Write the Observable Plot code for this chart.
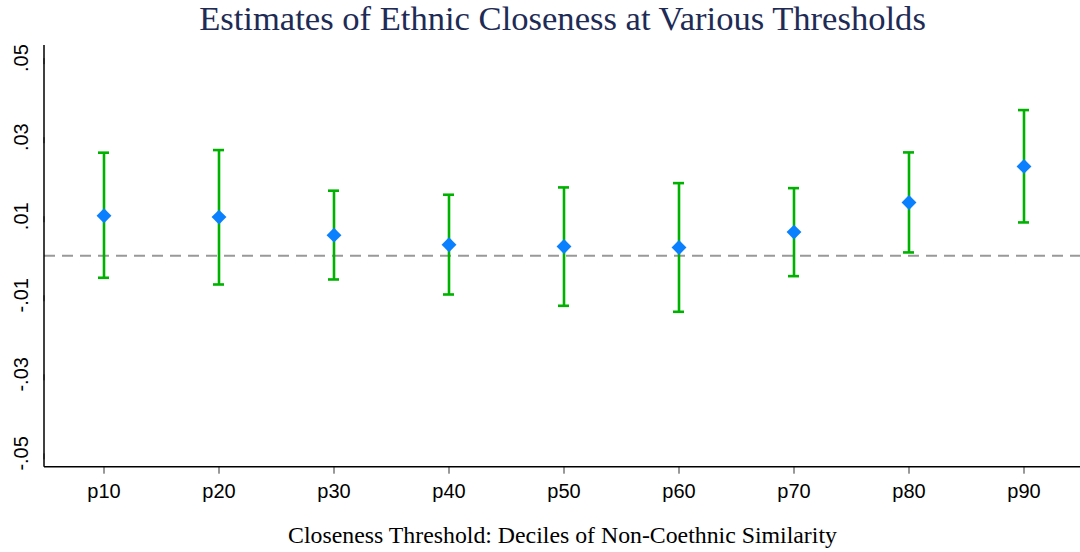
<!DOCTYPE html>
<html>
<head>
<meta charset="utf-8">
<script src="https://cdn.jsdelivr.net/npm/d3@7"></script>
<script src="https://cdn.jsdelivr.net/npm/@observablehq/plot@0.6"></script>
<style>
  html, body { margin: 0; padding: 0; background: #ffffff; }
</style>
</head>
<body>
<div id="chart"></div>
<script>
const categories = ["p10", "p20", "p30", "p40", "p50", "p60", "p70", "p80", "p90"];
const estimates  = [0.01013, 0.00978, 0.00522, 0.00278, 0.00235, 0.00210, 0.00598, 0.01349, 0.02261];
const lower      = [-0.00557, -0.00727, -0.00600, -0.00980, -0.01266, -0.01418, -0.00516, 0.00084, 0.00843];
const upper      = [0.02608, 0.02674, 0.01646, 0.01544, 0.01729, 0.01838, 0.01711, 0.02615, 0.03686];
const yTicks     = [-0.05, -0.03, -0.01, 0.01, 0.03, 0.05];
const titleText  = "Estimates of Ethnic Closeness at Various Thresholds";
const xLabelText = "Closeness Threshold: Deciles of Non-Coethnic Similarity";

const rows = categories.map((c, i) => ({cat: c, est: estimates[i], lo: lower[i], hi: upper[i]}));

const W = 1080, H = 552;
const mL = 44, mR = 0, mT = 45, mB = 85.3;
const yDomain = [-0.0535, 0.0532];

const fmt = d => (d < 0 ? "-" : "") + Math.abs(d).toFixed(2).replace(/^0/, "");

const green = "#00b200";
const blue = "#0a80ff";

const axisLines = (index, scales, values, dims) => {
  const g = d3.create("svg:g");
  g.append("line")
    .attr("x1", dims.marginLeft).attr("x2", dims.marginLeft)
    .attr("y1", dims.marginTop).attr("y2", dims.height - dims.marginBottom)
    .attr("stroke", "#000").attr("stroke-width", 1.5);
  g.append("line")
    .attr("x1", dims.marginLeft).attr("x2", dims.width - dims.marginRight)
    .attr("y1", dims.height - dims.marginBottom).attr("y2", dims.height - dims.marginBottom)
    .attr("stroke", "#000").attr("stroke-width", 1.5);
  return g.node();
};

const chart = Plot.plot({
  width: W,
  height: H,
  marginLeft: mL,
  marginRight: mR,
  marginTop: mT,
  marginBottom: mB,
  style: {fontFamily: "Liberation Sans, Arial, sans-serif", background: "#ffffff", color: "#000"},
  x: {type: "band", domain: categories, range: [44.6, 1082.4], padding: 0},
  y: {domain: yDomain},
  marks: [
    Plot.ruleY([0], {stroke: "#999999", strokeWidth: 2, strokeDasharray: "11,7"}),
    Plot.ruleX(rows, {x: "cat", y1: "lo", y2: "hi", stroke: green, strokeWidth: 2.6}),
    Plot.tickY(rows, {x: "cat", y: "lo", stroke: green, strokeWidth: 2.6, insetLeft: 52, insetRight: 52}),
    Plot.tickY(rows, {x: "cat", y: "hi", stroke: green, strokeWidth: 2.6, insetLeft: 52, insetRight: 52}),
    Plot.dot(rows, {x: "cat", y: "est", symbol: "diamond2", r: 6.7, fill: blue, stroke: null}),
    Plot.axisY({
      ticks: yTicks, tickFormat: fmt, tickSize: 6, tickPadding: 11,
      rotate: -90, textAnchor: "middle", lineAnchor: "bottom",
      fontSize: 20, stroke: "#333", fill: "#000", label: null
    }),
    Plot.axisX({
      tickSize: 7, tickPadding: 10, fontSize: 20, stroke: "#333", fill: "#000", label: null
    }),
    axisLines,
    Plot.text([titleText], {
      text: d => d, frameAnchor: "top", dy: -16, lineAnchor: "bottom",
      fontFamily: "Liberation Serif, Times New Roman, serif", fontSize: 34.6, fill: "#1e2b55"
    }),
    Plot.text([xLabelText], {
      text: d => d, frameAnchor: "bottom", dy: 75.5, lineAnchor: "bottom",
      fontFamily: "Liberation Serif, Times New Roman, serif", fontSize: 23.8, fill: "#000"
    })
  ]
});

document.getElementById("chart").appendChild(chart);
</script>
</body>
</html>
